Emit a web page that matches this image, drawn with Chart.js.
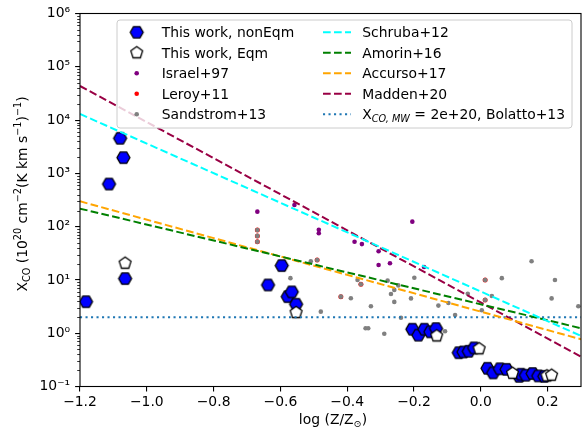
<!DOCTYPE html>
<html>
<head>
<meta charset="utf-8">
<script src="https://cdn.jsdelivr.net/npm/chart.js@4.4.1/dist/chart.umd.min.js"></script>
<style>
  html, body { margin: 0; padding: 0; background: #fff; }
</style>
</head>
<body>
<canvas id="grafikXco" width="586" height="433"></canvas>
<script>
// =====================================================
// DATA
// =====================================================
const nonEqmX = [-1.182, -1.113, -1.08, -1.07, -1.065,
                 -0.637, -0.596, -0.578, -0.566, -0.553,
                 -0.205, -0.187, -0.169, -0.151, -0.134,
                 -0.066, -0.052, -0.036, -0.020,
                 0.020, 0.037, 0.057, 0.077, 0.115, 0.120, 0.135, 0.155, 0.172, 0.190];
const nonEqmY = [3.9, 630, 4550, 1970, 10.6,
                 8.05, 18.6, 4.86, 5.96, 3.5,
                 1.19, 0.92, 1.19, 1.06, 1.22,
                 0.43, 0.445, 0.458, 0.53,
                 0.22, 0.18, 0.215, 0.21, 0.155, 0.17, 0.163, 0.175, 0.158, 0.155];

const eqmX = [-1.065, -0.553, -0.132, -0.005, 0.095, 0.198, 0.212];
const eqmY = [20.6, 2.44, 0.89, 0.51, 0.177, 0.158, 0.163];

const israelX = [-0.669, -0.558, -0.485, -0.485, -0.378, -0.356, -0.306, -0.306, -0.272, -0.205, -0.170];
const israelY = [191, 255, 87, 75, 52, 47, 34.5, 19, 20.5, 124, 17.5];

const leroyX = [-0.669, -0.669, -0.669, -0.490, -0.419, -0.359, 0.013, 0.013];
const leroyY = [86.7, 67, 52, 23.7, 4.86, 8.3, 10, 4.2];

const sandstromX = [-0.669, -0.669, -0.669, -0.509, -0.490, -0.570, -0.479, -0.419, -0.389, -0.369,
                    -0.359, -0.329, -0.345, -0.337, -0.289, -0.279, -0.269, -0.259, -0.259, -0.247,
                    -0.239, -0.209, -0.199, -0.127, -0.107, -0.097, -0.077, -0.039, 0.003, 0.013,
                    0.013, 0.033, 0.063, 0.152, 0.212, 0.222, 0.292];
const sandstromY = [86.7, 67, 52, 22.4, 23.7, 10.8, 2.54, 4.86, 4.53, 10,
                    8.3, 3.2, 1.24, 1.24, 0.98, 9.7, 5.45, 6.5, 3.87, 7.9,
                    1.95, 4.5, 11, 3.3, 1.09, 3.7, 2.2, 5.5, 2.7, 10,
                    4.2, 5.0, 10.8, 22.4, 4.5, 10, 3.2];

// garis relasi: titik ujung di log(Z/Zsun) = -1.2 dan 0.3
const relasiX = [-1.2, 0.3];
const schrubaY = [13000, 0.89];
const amorinY = [218, 1.24];
const accursoY = [299, 0.77];
const maddenY = [43600, 0.364];
const bolattoY = [2, 2];

const xTicks = [-1.2, -1.0, -0.8, -0.6, -0.4, -0.2, 0.0, 0.2];
const yTicks = [0.1, 1, 10, 100, 1000, 10000, 100000, 1000000];

// =====================================================
// MARKER (hexagon & pentagon)
// =====================================================
const FONT = '"DejaVu Sans", sans-serif';

function buatPoligon(sisi, r, sudutAwal, isi) {
    const c = document.createElement('canvas');
    const s = Math.ceil(r * 2 + 4);
    c.width = s; c.height = s;
    const g = c.getContext('2d');
    g.beginPath();
    for (let i = 0; i < sisi; i++) {
        const a = sudutAwal + i * 2 * Math.PI / sisi;
        const px = s / 2 + r * Math.cos(a);
        const py = s / 2 + r * Math.sin(a);
        if (i === 0) g.moveTo(px, py); else g.lineTo(px, py);
    }
    g.closePath();
    g.fillStyle = isi;
    g.fill();
    g.lineWidth = 1.3;
    g.lineJoin = 'miter';
    g.strokeStyle = '#000';
    g.stroke();
    return c;
}

const hexMarker = buatPoligon(6, 6.5, 0, '#0000ff');
const pentaMarker = buatPoligon(5, 6.2, -Math.PI / 2, '#ffffff');

function pasangkan(xs, ys) {
    return xs.map((x, i) => ({ x: x, y: ys[i] }));
}

function garis(label, ys, warna, dash) {
    return {
        type: 'line',
        label: label,
        data: pasangkan(relasiX, ys),
        borderColor: warna,
        borderWidth: 2,
        borderDash: dash,
        pointRadius: 0,
        fill: false,
        order: 1
    };
}

function titik(label, xs, ys, warna, r, urutan) {
    return {
        type: 'scatter',
        label: label,
        data: pasangkan(xs, ys),
        backgroundColor: warna,
        borderWidth: 0,
        pointRadius: r,
        order: urutan
    };
}

const DASH = [7.7, 3.3];
const DOT = [2.1, 3.4];

const superMap = { '-': '\u207B', '0': '\u2070', '1': '\u00B9', '2': '\u00B2', '3': '\u00B3',
                   '4': '\u2074', '5': '\u2075', '6': '\u2076', '7': '\u2077', '8': '\u2078', '9': '\u2079' };

function labelPangkat(v) {
    const e = Math.round(Math.log10(v)).toString();
    return '10' + e.split('').map(ch => superMap[ch]).join('');
}

// =====================================================
// TEKS DENGAN SUB/SUPERSCRIPT
// =====================================================
function fontSeg(s) {
    return (s.it ? 'italic ' : '') + (s.size || 13.9) + 'px ' + FONT;
}

function tulisRich(ctx, segs, x, y, align) {
    let total = 0;
    segs.forEach(s => {
        ctx.font = fontSeg(s);
        s.w = ctx.measureText(s.t).width;
        total += s.w;
    });
    let cx = align === 'center' ? x - total / 2 : x;
    ctx.textAlign = 'left';
    segs.forEach(s => {
        ctx.font = fontSeg(s);
        ctx.fillText(s.t, cx, y + (s.dy || 0));
        cx += s.w;
    });
}

const SUB = { size: 9.7, dy: 3 };
const SUP = { size: 9.7, dy: -5.5 };

const legendItems = [
    { kolom: 0, baris: 0, jenis: 'hex', teks: [{ t: 'This work, nonEqm' }] },
    { kolom: 0, baris: 1, jenis: 'penta', teks: [{ t: 'This work, Eqm' }] },
    { kolom: 0, baris: 2, jenis: 'dot', warna: '#800080', teks: [{ t: 'Israel+97' }] },
    { kolom: 0, baris: 3, jenis: 'dot', warna: '#ff0000', teks: [{ t: 'Leroy+11' }] },
    { kolom: 0, baris: 4, jenis: 'dot', warna: '#808080', teks: [{ t: 'Sandstrom+13' }] },
    { kolom: 1, baris: 0, jenis: 'line', warna: '#00ffff', dash: DASH, teks: [{ t: 'Schruba+12' }] },
    { kolom: 1, baris: 1, jenis: 'line', warna: '#008000', dash: DASH, teks: [{ t: 'Amorin+16' }] },
    { kolom: 1, baris: 2, jenis: 'line', warna: '#ffa500', dash: DASH, teks: [{ t: 'Accurso+17' }] },
    { kolom: 1, baris: 3, jenis: 'line', warna: '#990044', dash: DASH, teks: [{ t: 'Madden+20' }] },
    { kolom: 1, baris: 4, jenis: 'line', warna: '#1f77b4', dash: DOT,
      teks: [{ t: 'X' }, Object.assign({ t: 'CO, MW', it: true }, SUB), { t: ' = 2e+20, Bolatto+13' }] }
];

const pluginDekor = {
    id: 'dekor',
    afterDraw(chart) {
        const ctx = chart.ctx;
        const area = chart.chartArea;
        const ys = chart.scales.y;
        ctx.save();

        // minor tick sumbu y
        ctx.strokeStyle = '#000';
        ctx.lineWidth = 0.8;
        for (let d = -1; d < 6; d++) {
            for (let m = 2; m < 10; m++) {
                const py = Math.round(ys.getPixelForValue(m * Math.pow(10, d))) + 0.5;
                ctx.beginPath();
                ctx.moveTo(area.left, py);
                ctx.lineTo(area.left - 2.8, py);
                ctx.stroke();
            }
        }

        // bingkai
        ctx.lineWidth = 1.1;
        ctx.strokeRect(area.left, area.top, area.right - area.left, area.bottom - area.top);

        // legenda
        const bx = 117, by = 20, bw = 455, bh = 108, rr = 3;
        ctx.beginPath();
        ctx.moveTo(bx + rr, by);
        ctx.arcTo(bx + bw, by, bx + bw, by + bh, rr);
        ctx.arcTo(bx + bw, by + bh, bx, by + bh, rr);
        ctx.arcTo(bx, by + bh, bx, by, rr);
        ctx.arcTo(bx, by, bx + bw, by, rr);
        ctx.closePath();
        ctx.fillStyle = 'rgba(255,255,255,0.8)';
        ctx.fill();
        ctx.strokeStyle = '#cccccc';
        ctx.lineWidth = 1;
        ctx.stroke();

        const barisY = [32.3, 52.8, 73.3, 93.8, 114.3];
        legendItems.forEach(it => {
            const yy = barisY[it.baris];
            if (it.kolom === 0) {
                const mx = 136.7;
                if (it.jenis === 'hex') {
                    ctx.drawImage(hexMarker, mx - hexMarker.width / 2, yy - hexMarker.height / 2);
                } else if (it.jenis === 'penta') {
                    ctx.drawImage(pentaMarker, mx - pentaMarker.width / 2, yy - pentaMarker.height / 2);
                } else {
                    ctx.beginPath();
                    ctx.arc(mx, yy, 2.3, 0, 2 * Math.PI);
                    ctx.fillStyle = it.warna;
                    ctx.fill();
                }
            } else {
                ctx.beginPath();
                ctx.setLineDash(it.dash);
                ctx.strokeStyle = it.warna;
                ctx.lineWidth = 2;
                ctx.moveTo(323, yy);
                ctx.lineTo(351, yy);
                ctx.stroke();
                ctx.setLineDash([]);
            }
            ctx.fillStyle = '#000';
            ctx.textBaseline = 'alphabetic';
            tulisRich(ctx, it.teks, it.kolom === 0 ? 161.7 : 362.3, yy + 5, 'left');
        });

        // judul sumbu x
        ctx.fillStyle = '#000';
        tulisRich(ctx, [{ t: 'log (Z/Z' }, Object.assign({ t: '\u2299' }, SUB), { t: ')' }], 333, 424, 'center');

        // judul sumbu y
        ctx.translate(26.5, 194);
        ctx.rotate(-Math.PI / 2);
        tulisRich(ctx, [
            { t: 'X' }, Object.assign({ t: 'CO' }, SUB),
            { t: ' (10' }, Object.assign({ t: '20' }, SUP),
            { t: ' cm' }, Object.assign({ t: '\u22122' }, SUP),
            { t: '(K km s' }, Object.assign({ t: '\u22121' }, SUP),
            { t: ')' }, Object.assign({ t: '\u22121' }, SUP),
            { t: ')' }
        ], 0, 0, 'center');

        ctx.restore();
    }
};

// =====================================================
// GRAFIK
// =====================================================
const ctxGrafik = document.getElementById('grafikXco').getContext('2d');

new Chart(ctxGrafik, {
    data: {
        datasets: [
            garis('Schruba+12', schrubaY, '#00ffff', DASH),
            garis('Amorin+16', amorinY, '#008000', DASH),
            garis('Accurso+17', accursoY, '#ffa500', DASH),
            garis('Madden+20', maddenY, '#990044', DASH),
            garis('Bolatto+13', bolattoY, '#1f77b4', DOT),
            {
                type: 'scatter',
                label: 'This work, Eqm',
                data: pasangkan(eqmX, eqmY),
                pointStyle: pentaMarker,
                order: 2
            },
            {
                type: 'scatter',
                label: 'This work, nonEqm',
                data: pasangkan(nonEqmX, nonEqmY),
                pointStyle: hexMarker,
                order: 3
            },
            titik('Israel+97', israelX, israelY, '#800080', 2.3, 4),
            titik('Sandstrom+13', sandstromX, sandstromY, '#808080', 2.3, 5),
            titik('Leroy+11', leroyX, leroyY, '#ff0000', 2.5, 6)
        ]
    },
    options: {
        responsive: false,
        animation: false,
        events: [],
        layout: { padding: { top: 13.5, right: 4, left: 0, bottom: 0 } },
        plugins: {
            legend: { display: false },
            tooltip: { enabled: false }
        },
        scales: {
            x: {
                type: 'linear',
                min: -1.2,
                max: 0.3,
                afterFit(scale) { scale.height = 46.5; },
                afterBuildTicks(scale) { scale.ticks = xTicks.map(v => ({ value: v })); },
                border: { display: false },
                grid: { drawOnChartArea: false, drawTicks: true, tickLength: 4.9, color: '#000', lineWidth: 1.1 },
                ticks: {
                    color: '#000',
                    font: { family: FONT, size: 13.9 },
                    padding: 3,
                    maxRotation: 0,
                    autoSkip: false,
                    callback: v => v.toFixed(1).replace('-', '\u2212')
                }
            },
            y: {
                type: 'logarithmic',
                min: 0.1,
                max: 1000000,
                afterFit(scale) { scale.width = 80; },
                afterBuildTicks(scale) { scale.ticks = yTicks.map(v => ({ value: v })); },
                border: { display: false },
                grid: { drawOnChartArea: false, drawTicks: true, tickLength: 4.9, color: '#000', lineWidth: 1.1 },
                ticks: {
                    color: '#000',
                    font: { family: FONT, size: 13.9 },
                    padding: 5,
                    autoSkip: false,
                    callback: v => labelPangkat(v)
                }
            }
        }
    },
    plugins: [pluginDekor]
});
</script>
</body>
</html>
